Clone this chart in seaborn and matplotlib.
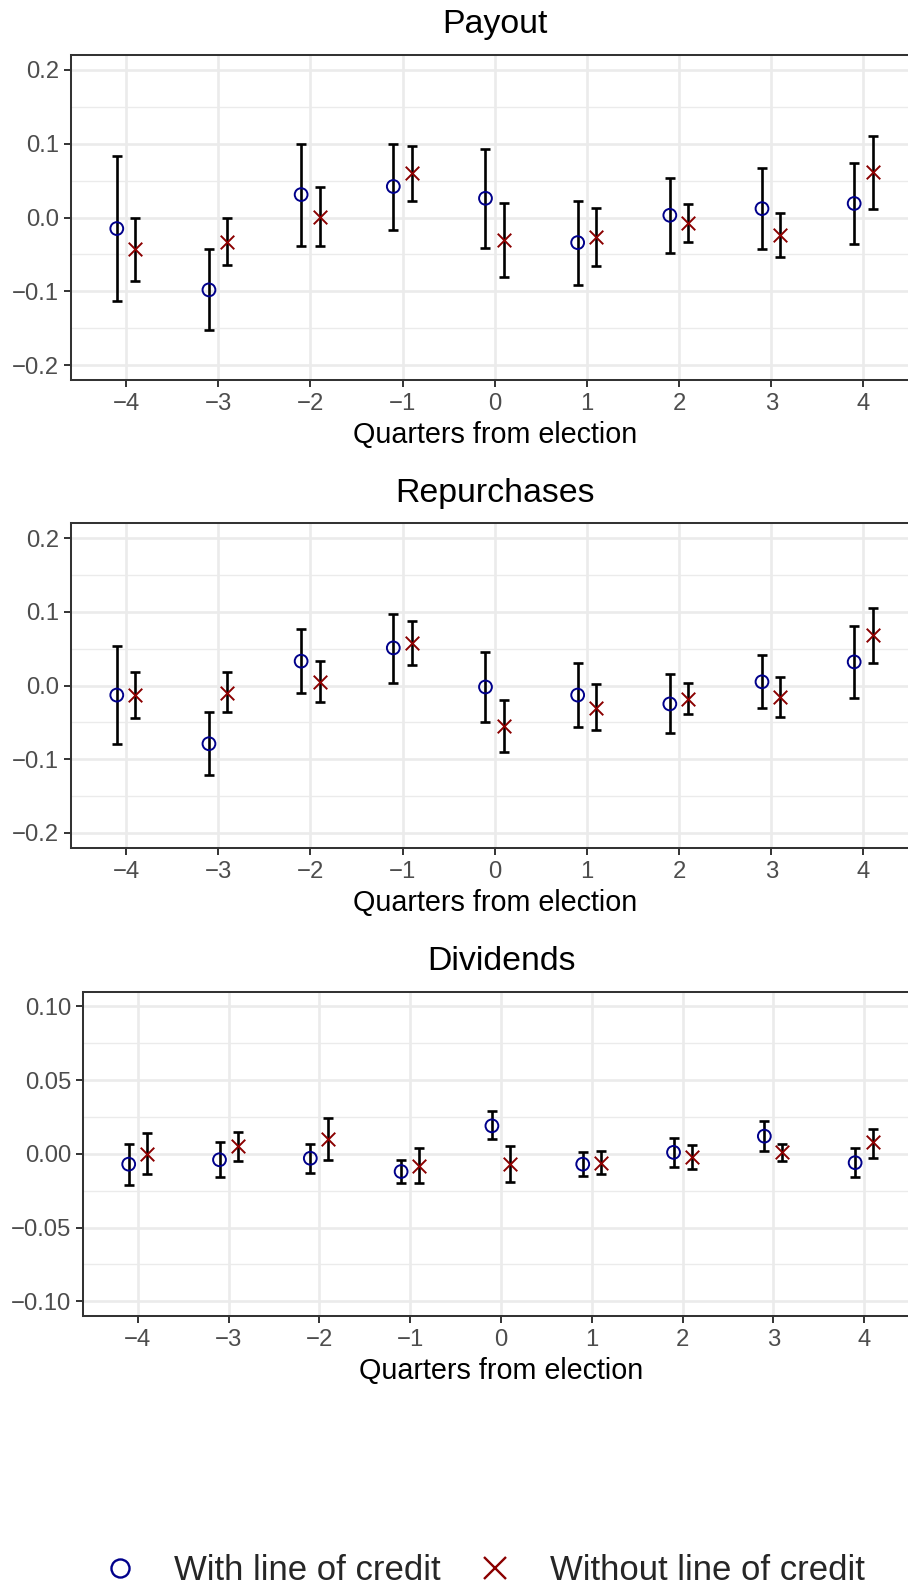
import numpy as np
import pandas as pd
import matplotlib
matplotlib.use("Agg")
import matplotlib.pyplot as plt
import seaborn as sns
from matplotlib.lines import Line2D
from matplotlib.ticker import FixedLocator, FixedFormatter

# ---- data -------------------------------------------------------------
quarters = [-4, -3, -2, -1, 0, 1, 2, 3, 4]
quarter_labels = ["\u22124", "\u22123", "\u22122", "\u22121", "0", "1", "2", "3", "4"]
groups = ["With line of credit", "Without line of credit"]

payout_with = [-0.015, -0.098, 0.031, 0.042, 0.026, -0.034, 0.003, 0.012, 0.019]
payout_with_lo = [-0.113, -0.152, -0.038, -0.017, -0.041, -0.092, -0.048, -0.043, -0.036]
payout_with_hi = [0.083, -0.042, 0.099, 0.100, 0.093, 0.023, 0.054, 0.067, 0.074]
payout_without = [-0.043, -0.033, 0.001, 0.060, -0.031, -0.026, -0.007, -0.024, 0.061]
payout_without_lo = [-0.086, -0.064, -0.038, 0.023, -0.081, -0.066, -0.033, -0.053, 0.011]
payout_without_hi = [0.000, -0.001, 0.041, 0.097, 0.020, 0.013, 0.018, 0.006, 0.110]

repurch_with = [-0.013, -0.079, 0.033, 0.051, -0.002, -0.013, -0.025, 0.005, 0.032]
repurch_with_lo = [-0.080, -0.122, -0.010, 0.003, -0.049, -0.056, -0.064, -0.030, -0.017]
repurch_with_hi = [0.054, -0.036, 0.077, 0.097, 0.045, 0.030, 0.015, 0.041, 0.081]
repurch_without = [-0.013, -0.010, 0.005, 0.057, -0.055, -0.030, -0.018, -0.016, 0.069]
repurch_without_lo = [-0.044, -0.036, -0.022, 0.028, -0.090, -0.061, -0.039, -0.043, 0.031]
repurch_without_hi = [0.018, 0.018, 0.033, 0.087, -0.020, 0.002, 0.004, 0.012, 0.105]

div_with = [-0.007, -0.004, -0.003, -0.012, 0.019, -0.007, 0.001, 0.012, -0.006]
div_with_lo = [-0.021, -0.016, -0.013, -0.020, 0.010, -0.015, -0.009, 0.002, -0.016]
div_with_hi = [0.007, 0.008, 0.007, -0.004, 0.029, 0.001, 0.011, 0.022, 0.004]
div_without = [0.000, 0.005, 0.010, -0.008, -0.007, -0.006, -0.002, 0.001, 0.008]
div_without_lo = [-0.014, -0.005, -0.004, -0.020, -0.019, -0.014, -0.010, -0.005, -0.003]
div_without_hi = [0.014, 0.015, 0.024, 0.004, 0.005, 0.002, 0.006, 0.007, 0.017]

wide_ticks = [-0.2, -0.1, 0.0, 0.1, 0.2]
wide_labels = ["\u22120.2", "\u22120.1", "0.0", "0.1", "0.2"]
narrow_ticks = [-0.10, -0.05, 0.00, 0.05, 0.10]
narrow_labels = ["\u22120.10", "\u22120.05", "0.00", "0.05", "0.10"]

panel_titles = ["Payout", "Repurchases", "Dividends"]
x_title = "Quarters from election"


def panel_frame(w, w_lo, w_hi, wo, wo_lo, wo_hi):
    a = pd.DataFrame({"quarter": quarters, "group": groups[0],
                      "est": w, "lo": w_lo, "hi": w_hi})
    b = pd.DataFrame({"quarter": quarters, "group": groups[1],
                      "est": wo, "lo": wo_lo, "hi": wo_hi})
    return pd.concat([a, b], ignore_index=True)


frames = [
    panel_frame(payout_with, payout_with_lo, payout_with_hi,
                payout_without, payout_without_lo, payout_without_hi),
    panel_frame(repurch_with, repurch_with_lo, repurch_with_hi,
                repurch_without, repurch_without_lo, repurch_without_hi),
    panel_frame(div_with, div_with_lo, div_with_hi,
                div_without, div_without_lo, div_without_hi),
]

# ---- style ------------------------------------------------------------
sns.set_style("white")
plt.rcParams["font.family"] = ["Liberation Sans", "DejaVu Sans"]
plt.rcParams["axes.unicode_minus"] = True

BLUE = "#00008B"
RED = "#8B0000"
GRID = "#EBEBEB"
FRAME = "#333333"
TICKTXT = "#4D4D4D"
dodge = {groups[0]: -0.1, groups[1]: 0.1}

W, H = 908, 1587
fig = plt.figure(figsize=(W / 100, H / 100), dpi=100)

# panel boxes in pixels: left, top, right, bottom
boxes = [(70.7, 55.0, 918.7, 380.0),
         (70.7, 523.3, 918.7, 847.7),
         (83.3, 991.7, 918.7, 1316.0)]
yspecs = [(wide_ticks, wide_labels, 0.22),
          (wide_ticks, wide_labels, 0.22),
          (narrow_ticks, narrow_labels, 0.11)]

for df, box, (yt, yl, ylim), title in zip(frames, boxes, yspecs, panel_titles):
    l, t, r, b = box
    ax = fig.add_axes([l / W, 1 - b / H, (r - l) / W, (b - t) / H])
    df = df.copy()
    df["xpos"] = df["quarter"] + df["group"].map(dodge)

    ax.errorbar(df["xpos"], df["est"],
                yerr=[df["est"] - df["lo"], df["hi"] - df["est"]],
                fmt="none", ecolor="black", elinewidth=1.9,
                capsize=3.4, capthick=1.9, zorder=3)

    sub = df[df["group"] == groups[0]]
    sns.scatterplot(data=sub, x="xpos", y="est", marker="o", s=85,
                    facecolor="none", edgecolor=BLUE, linewidth=1.4,
                    ax=ax, zorder=4, legend=False)
    sub = df[df["group"] == groups[1]]
    sns.scatterplot(data=sub, x="xpos", y="est", marker="x", s=95,
                    color=RED, linewidth=1.4, ax=ax, zorder=4, legend=False)

    ax.set_xlim(-4.6, 4.6)
    ax.set_ylim(-ylim, ylim)
    ax.xaxis.set_major_locator(FixedLocator(quarters))
    ax.xaxis.set_major_formatter(FixedFormatter(quarter_labels))
    ax.yaxis.set_major_locator(FixedLocator(yt))
    ax.yaxis.set_major_formatter(FixedFormatter(yl))
    minor = [(yt[i] + yt[i + 1]) / 2 for i in range(len(yt) - 1)]
    ax.yaxis.set_minor_locator(FixedLocator(minor))

    ax.set_axisbelow(True)
    ax.grid(which="major", color=GRID, linewidth=1.9)
    ax.grid(which="minor", axis="y", color=GRID, linewidth=0.95)
    ax.tick_params(which="major", length=5, width=1.4, color=FRAME,
                   labelsize=17.2, labelcolor=TICKTXT,
                   bottom=True, left=True)
    ax.tick_params(axis="x", which="major", pad=4.6)
    ax.tick_params(axis="y", which="major", pad=3.5)
    ax.tick_params(which="minor", length=0)
    for sp in ax.spines.values():
        sp.set_color(FRAME)
        sp.set_linewidth(1.45)

    ax.set_xlabel(x_title, fontsize=20.7, color="black", labelpad=4.2)
    ax.set_ylabel("")
    ax.set_title(title, fontsize=24.4, color="black", pad=15.6)

handles = [
    Line2D([], [], linestyle="none", marker="o", markersize=13,
           markerfacecolor="none", markeredgecolor=BLUE, markeredgewidth=1.7),
    Line2D([], [], linestyle="none", marker="x", markersize=16,
           color=RED, markeredgewidth=1.7),
]
fig.legend(handles, groups, loc="center", bbox_to_anchor=(0.5325, 1 - 1571 / H),
           ncol=2, frameon=False, fontsize=25, handlelength=1.0,
           handletextpad=1.065, columnspacing=1.076, borderaxespad=0,
           borderpad=0)

fig.savefig("out.png", dpi=100)
